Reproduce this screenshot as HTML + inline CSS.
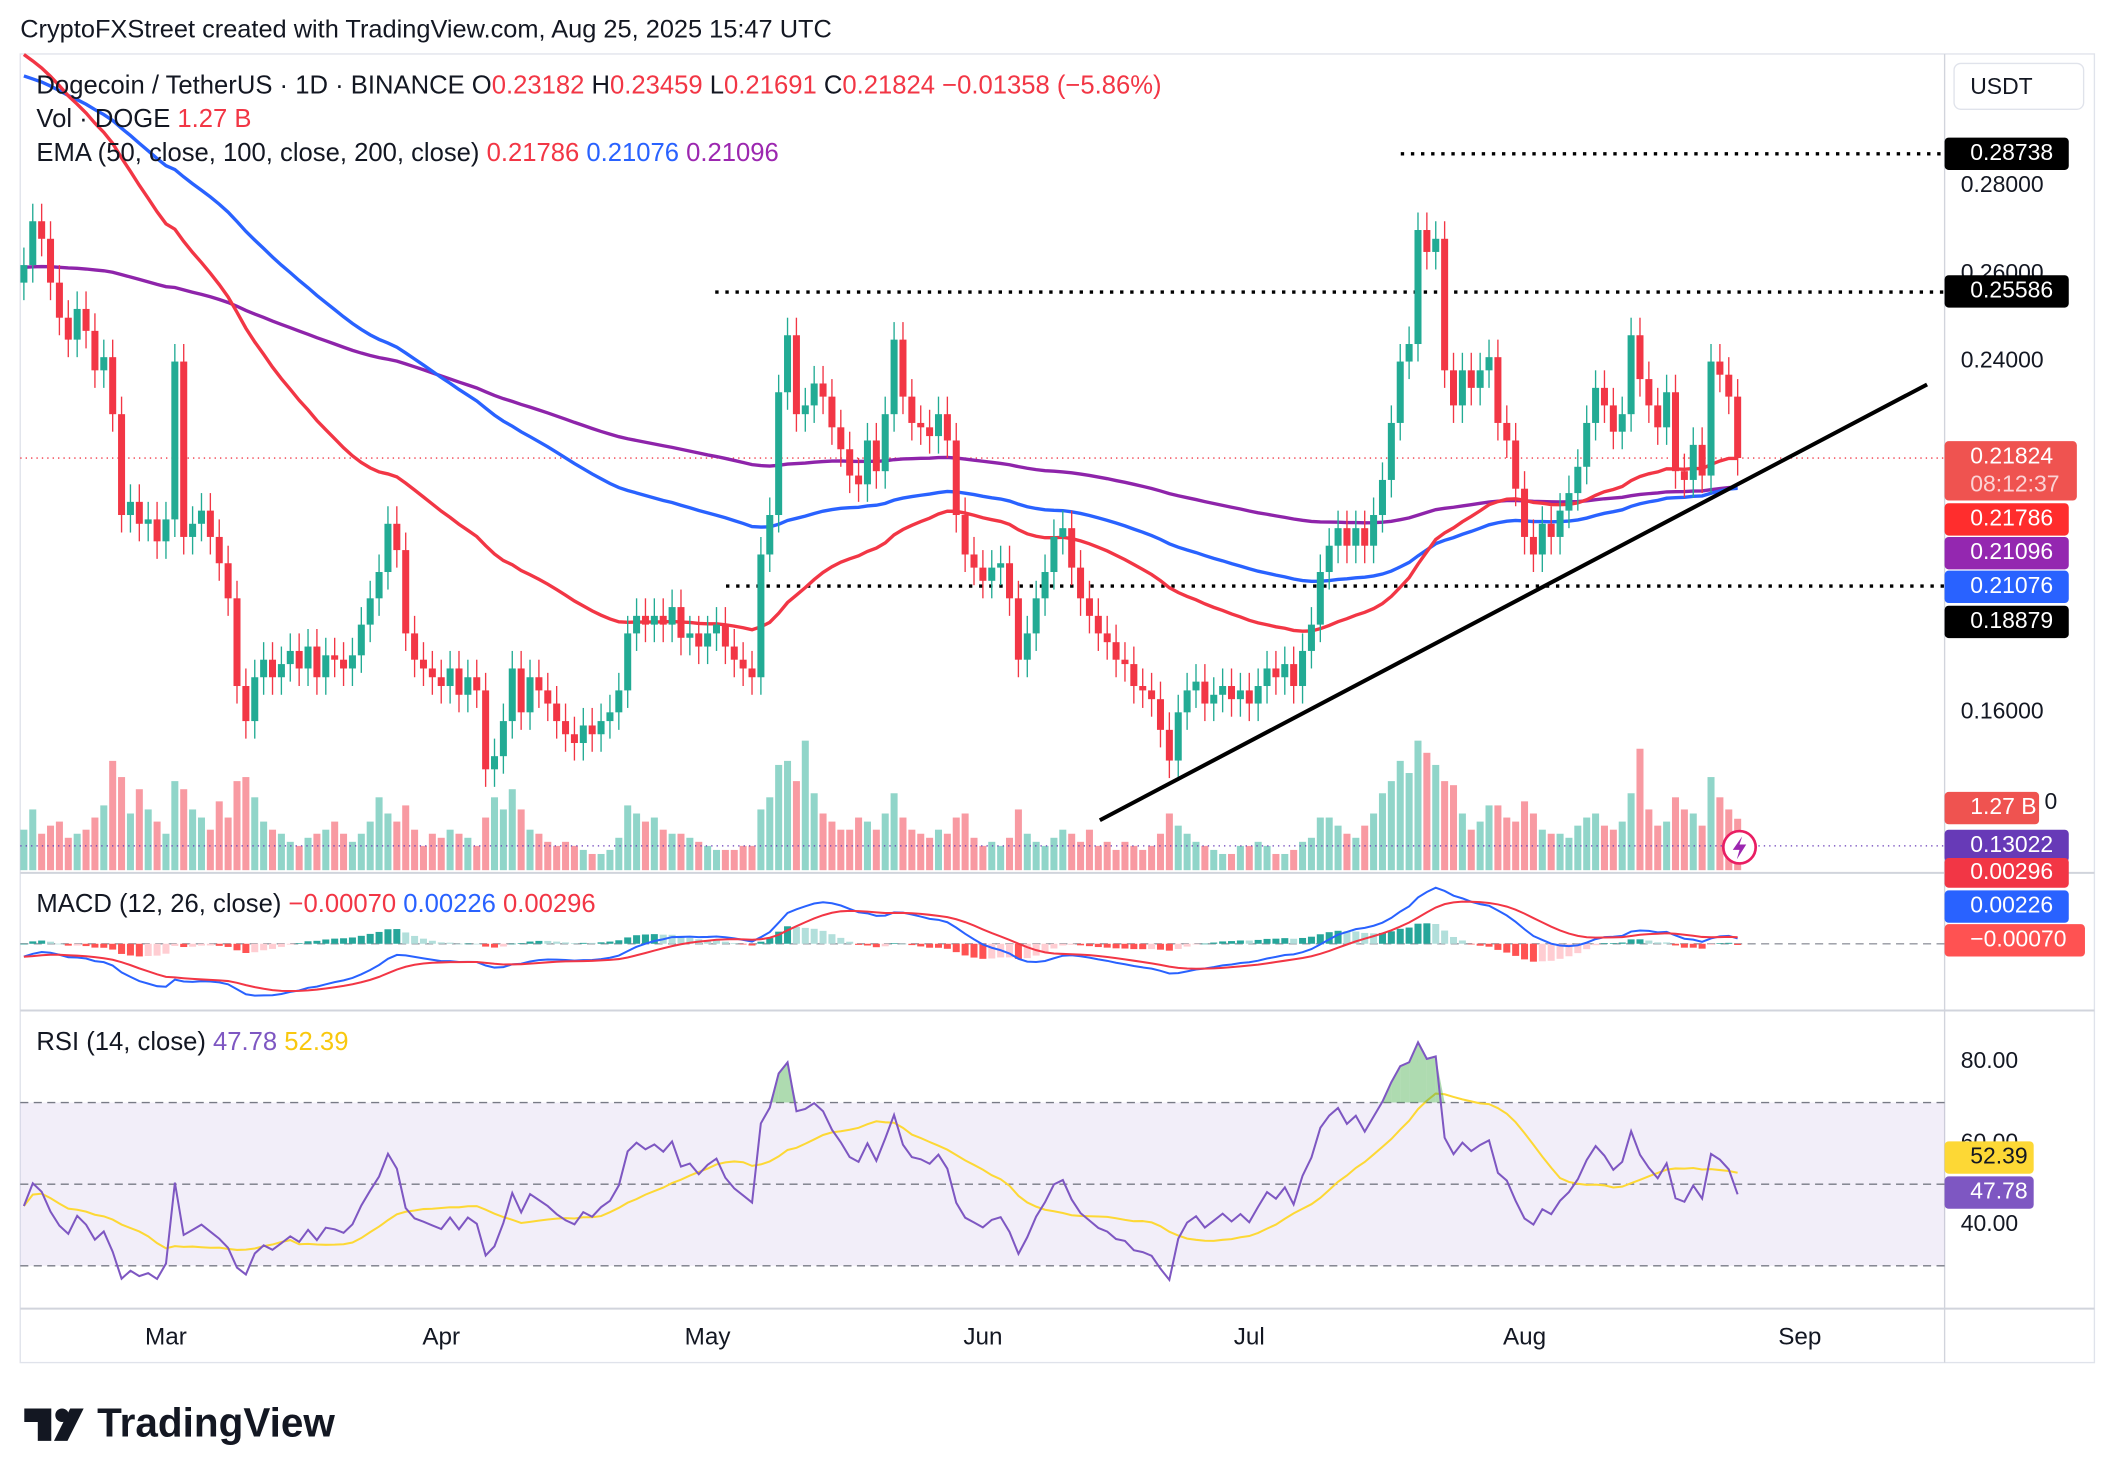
<!DOCTYPE html>
<html><head><meta charset="utf-8"><style>
html,body{margin:0;padding:0;background:#fff;}
svg{display:block;font-family:"Liberation Sans",sans-serif;}
</style></head><body>
<svg id="c" width="2116" height="1484" viewBox="0 0 1568 1100" preserveAspectRatio="none"></svg>
<script>
const closes=[0.262,0.272,0.268,0.258,0.250,0.245,0.252,0.247,0.238,0.241,0.228,0.205,0.208,0.203,0.204,0.199,
0.204,0.240,0.200,0.203,0.206,0.200,0.194,0.186,0.166,0.158,0.168,0.172,0.168,0.171,0.174,0.170,0.175,0.168,0.173,0.172,0.170,0.173,0.180,0.186,0.192,0.203,0.197,0.178,0.172,0.170,0.168,
0.166,0.170,0.164,0.168,0.165,0.147,0.150,0.158,0.170,0.160,0.168,0.165,0.162,0.158,0.155,0.153,0.157,0.155,0.158,0.160,0.165,0.178,0.182,0.180,0.182,0.180,0.184,0.177,0.178,0.175,
0.178,0.180,0.175,0.172,0.170,0.168,0.196,0.205,0.233,0.246,0.228,0.230,0.235,0.232,0.225,0.220,0.214,0.212,0.222,0.215,0.228,0.245,0.232,0.226,0.225,0.223,0.228,0.222,0.205,0.196,0.193,
0.190,0.193,0.194,0.186,0.172,0.178,0.186,0.192,0.200,0.202,0.193,0.186,0.182,0.178,0.176,0.172,0.171,0.166,0.165,0.163,0.156,0.149,0.160,0.165,0.167,0.162,0.164,0.166,0.163,0.165,
0.162,0.166,0.170,0.168,0.171,0.166,0.174,0.180,0.192,0.198,0.202,0.198,0.202,0.198,0.205,0.213,0.226,0.240,0.244,0.270,0.265,0.268,0.238,0.230,0.238,0.234,0.238,0.241,0.226,0.222,0.211,
0.200,0.196,0.203,0.200,0.206,0.210,0.216,0.226,0.234,0.230,0.224,0.228,0.246,0.236,0.230,0.225,0.233,0.215,0.213,0.221,0.214,0.240,0.237,0.232,0.218];
const firstOpen=0.258;
const volumes=[1.0,1.5,0.9,1.1,1.2,0.8,0.9,1.0,1.3,1.6,2.7,2.3,1.4,2.0,1.5,1.2,
0.9,2.2,2.0,1.5,1.3,1.0,1.7,1.3,2.2,2.3,1.8,1.2,1.0,0.9,0.7,0.6,0.8,0.9,1.0,1.2,0.9,0.7,0.9,1.2,1.8,1.4,1.2,1.6,1.0,0.6,0.9,
0.8,1.0,0.9,0.8,0.6,1.3,1.8,1.5,2.0,1.5,1.0,0.9,0.7,0.6,0.7,0.6,0.5,0.4,0.4,0.5,0.8,1.6,1.4,1.2,1.3,1.0,0.9,0.9,0.8,0.7,
0.6,0.5,0.5,0.5,0.6,0.6,1.5,1.8,2.6,2.7,2.2,3.2,1.9,1.4,1.2,1.0,1.0,1.3,1.2,1.0,1.4,1.9,1.3,1.0,0.9,0.8,1.0,0.9,1.3,1.4,0.8,
0.6,0.7,0.6,0.8,1.5,0.9,0.7,0.6,0.8,1.0,0.9,0.7,1.0,0.6,0.7,0.5,0.7,0.6,0.5,0.6,0.9,1.4,1.1,0.9,0.7,0.6,0.5,0.4,0.4,0.6,
0.6,0.7,0.6,0.4,0.4,0.5,0.7,0.8,1.3,1.3,1.1,0.9,0.8,1.1,1.4,1.9,2.2,2.7,2.4,3.2,2.9,2.6,2.2,2.1,1.4,1.0,1.2,1.6,1.6,1.3,1.2,
1.7,1.4,1.0,0.9,0.9,0.8,1.1,1.3,1.4,1.1,1.0,1.2,1.9,3.0,1.5,1.1,1.2,1.8,1.5,1.4,1.1,2.3,1.8,1.5,1.27];
const emaSeeds=[0.312,0.306,0.2615];
const macdSeeds=[0.262,0.2676,-0.0052];
const rsiSeeds=[0.003,0.0041];
const priceTicks=[0.28,0.26,0.24,0.16];
const rsiTicks=[80,60,40];
const monthLabels=["Mar","Apr","May","Jun","Jul","Aug","Sep"];
const monthDays=[16,47,77,108,138,169,200];

const S=document.getElementById('c');const NS='http://www.w3.org/2000/svg';
function el(t,a,p){const e=document.createElementNS(NS,t);for(const k in a)e.setAttribute(k,a[k]);(p||S).appendChild(e);return e;}
const X=i=>17.7+i*6.58;
const Y=p=>268-(p-0.24)*3250;
const VY=v=>645-v*30;
const RY=v=>787+(80-v)*3.025;
const G='#22ab94',R='#f23645';

// frames
let e;
e=el('rect',{x:15,y:40,width:1537,height:970,fill:'none',stroke:'#e0e3eb'});

[647,749,970].forEach(y=>el('line',{x1:15,x2:1552,y1:y,y2:y,stroke:'#d1d4dc','stroke-width':1.5}));
el('line',{x1:1441,x2:1441,y1:40,y2:1010,stroke:'#d1d4dc'});
const defs=el('defs',{});const cp=el('clipPath',{id:'mclip'},defs);el('rect',{x:15,y:648,width:1426,height:100},cp);
// rsi band
e=el('rect',{x:15,y:RY(70),width:1426,height:RY(30)-RY(70),fill:'#7e57c2','fill-opacity':0.1});

[70,50,30].forEach(v=>el('line',{x1:15,x2:1441,y1:RY(v),y2:RY(v),stroke:'#787b86','stroke-dasharray':'6 4','stroke-width':1}));

// volumes
const g=el('g',{});
for(let i=0;i<closes.length;i++){const o=i?closes[i-1]:firstOpen;const up=closes[i]>=o;
 el('rect',{x:X(i)-2.6,y:VY(volumes[i]),width:5.2,height:645-VY(volumes[i]),fill:up?G:R,'fill-opacity':0.5},g);}
// dotted lines
el('line',{x1:15,x2:1441,y1:Y(closes[closes.length-1]),y2:Y(closes[closes.length-1]),stroke:R,'stroke-dasharray':'1 3'});
el('line',{x1:15,x2:1441,y1:627,y2:627,stroke:'#673ab7','stroke-dasharray':'1 3'});
[[0.28738,1038],[0.25586,530],[0.18879,538]].forEach(([p,x0])=>{e=el('line',{x1:x0,x2:1441,y1:Y(p),y2:Y(p),stroke:'#000','stroke-width':2.5,'stroke-dasharray':'2.5 5'});
 });

// EMAs
function emaSeries(per,seed){const a=2/(per+1);let v=seed;return closes.map(c=>v=v+a*(c-v));}
const emas=[emaSeries(50,emaSeeds[0]),emaSeries(100,emaSeeds[1]),emaSeries(200,emaSeeds[2])];
const pts=(arr,f)=>arr.map((v,i)=>X(i).toFixed(1)+','+f(v).toFixed(1)).join(' ');
e=el('polyline',{points:pts(emas[2],Y),fill:'none',stroke:'#8e24aa','stroke-width':2.5});
e=el('polyline',{points:pts(emas[1],Y),fill:'none',stroke:'#2962ff','stroke-width':2.5});
e=el('polyline',{points:pts(emas[0],Y),fill:'none',stroke:'#f23645','stroke-width':2.5});

// candles
const cg=el('g',{});
for(let i=0;i<closes.length;i++){const o=i?closes[i-1]:firstOpen,c=closes[i];const up=c>=o;const col=up?G:R;
 const hi=Math.max(o,c)+0.004,lo=Math.min(o,c)-0.004;
 el('line',{x1:X(i),x2:X(i),y1:Y(hi),y2:Y(lo),stroke:col,'stroke-width':1},cg);
 el('rect',{x:X(i)-2.6,y:Y(Math.max(o,c)),width:5.2,height:Math.max(1,Math.abs(Y(o)-Y(c))),fill:col},cg);}
// trendline
e=el('line',{x1:815,y1:608,x2:1428,y2:285,stroke:'#000','stroke-width':3});

// MACD (auto-scaled to pane)
const m12=emaSeries(12,macdSeeds[0]),m26=emaSeries(26,macdSeeds[1]);
const macd=m12.map((v,i)=>v-m26[i]);let sv=macdSeeds[2];const sig=macd.map(v=>sv=sv+0.2*(v-sv));
const allM=macd.concat(sig,[0]);const mMax=Math.max(...allM),mMin=Math.min(...allM);
const MY=v=>658+(mMax-v)/(mMax-mMin)*80;
el('line',{x1:15,x2:1441,y1:MY(0),y2:MY(0),stroke:'#9598a1','stroke-dasharray':'6 4','stroke-width':1});
const mw=el('g',{'clip-path':'url(#mclip)'});
const mg=el('g',{},mw);
for(let i=0;i<macd.length;i++){const h=macd[i]-sig[i];const ph=i?macd[i-1]-sig[i-1]:h;
 const col=h>=0?(h>=ph?'#26a69a':'#b2dfdb'):(h<=ph?'#ff5252':'#ffcdd2');
 el('rect',{x:X(i)-2.6,y:Math.min(MY(0),MY(h)),width:5.2,height:Math.max(0.5,Math.abs(MY(h)-MY(0))),fill:col},mg);}
e=el('polyline',{points:pts(macd,MY),fill:'none',stroke:'#2962ff','stroke-width':1.5},mw);
e=el('polyline',{points:pts(sig,MY),fill:'none',stroke:'#f23645','stroke-width':1.5},mw);

// RSI
let ag=rsiSeeds[0],al=rsiSeeds[1];
const rsi=closes.map((c,i)=>{const d=c-(i?closes[i-1]:firstOpen);ag=(ag*13+Math.max(d,0))/14;al=(al*13+Math.max(-d,0))/14;return 100-100/(1+ag/al);});
const rsiMa=rsi.map((v,i)=>{const s=rsi.slice(Math.max(0,i-13),i+1);return s.reduce((a,b)=>a+b,0)/s.length;});
e=el('polyline',{points:pts(rsiMa,RY),fill:'none',stroke:'#fdd835','stroke-width':1.5});
for(let i=1;i<rsi.length;i++){if(rsi[i]>70||rsi[i-1]>70){const a=Math.max(rsi[i-1],70),b=Math.max(rsi[i],70);
 el('polygon',{points:`${X(i-1)},${RY(70)} ${X(i-1)},${RY(a)} ${X(i)},${RY(b)} ${X(i)},${RY(70)}`,fill:'#4caf50','fill-opacity':0.45});}}
e=el('polyline',{points:pts(rsi,RY),fill:'none',stroke:'#7e57c2','stroke-width':1.5});

// text helper
function tx(x,y,s,a){const t=el('text',Object.assign({x:x,y:y,'font-size':17,fill:'#131722','dominant-baseline':'middle'},a||{}));t.textContent=s;return t;}
priceTicks.forEach(p=>{e=tx(1453,Y(p),p.toFixed(5));});
rsiTicks.forEach(v=>{e=tx(1453,RY(v),v.toFixed(2));});
monthLabels.forEach((m,k)=>{e=tx(X(monthDays[k]),992,m,{'text-anchor':'middle','font-size':18});});
function lab(y,h,col,s,w,name,sub,tc){const r=el('rect',{x:1441,y:y-h/2,width:w||92,height:h,rx:3,fill:col});
 
 tx(1460,sub?y-10:y,s,{fill:tc||'#fff'});if(sub)tx(1460,y+11,sub,{fill:'#fbd3d5'});}
lab(114,24,'#000','0.28738',92,'label-0-28738');lab(216,24,'#000','0.25586',92,'label-0-25586');
lab(349,44,'#ef5350','0.21824',98,'label-last-price','08:12:37');
lab(385,24,'#ff2d2d','0.21786',92,'label-ema50');lab(410,24,'#9427b0','0.21096',92,'label-ema200');
lab(435,24,'#2962ff','0.21076',92,'label-ema100');lab(461,24,'#000','0.18879',92,'label-0-18879');
tx(1515,595,'0');
lab(599,24,'#ef5350','1.27 B',70,'label-volume');lab(627,24,'#673ab7','0.13022',92,'label-0-13022');
lab(647,22,'#f23645','0.00296',92,'label-signal');lab(672,24,'#2962ff','0.00226',92,'label-macd');
lab(697,24,'#ff5252','−0.00070',104,'label-hist');
lab(858,24,'#fdd835','52.39',66,'label-rsi-ma',null,'#131722');lab(884,24,'#7e57c2','47.78',66,'label-rsi');
e=el('rect',{x:1448,y:47,width:96,height:34,rx:5,fill:'#fff',stroke:'#e0e3eb'});
tx(1460,65,'USDT');
e=tx(15,23,'CryptoFXStreet created with TradingView.com, Aug 25, 2025 15:47 UTC',{'font-size':18.8});
function multi(x,y,parts,name){const t=el('text',{x:x,y:y,'font-size':19,'dominant-baseline':'middle'});
 parts.forEach(([s,c])=>{const sp=el('tspan',{fill:c},t);sp.textContent=s;});}
multi(27,64,[['Dogecoin / TetherUS · 1D · BINANCE  ','#131722'],['O','#131722'],['0.23182  ',R],['H','#131722'],['0.23459  ',R],['L','#131722'],['0.21691  ',R],['C','#131722'],['0.21824  −0.01358 (−5.86%)',R]],'symbol-legend');
multi(27,89,[['Vol · DOGE  ','#131722'],['1.27 B',R]],'volume-legend');
multi(27,114,[['EMA (50, close, 100, close, 200, close)  ','#131722'],['0.21786  ',R],['0.21076  ','#2962ff'],['0.21096','#9c27b0']],'ema-legend');
multi(27,671,[['MACD (12, 26, close)  ','#131722'],['−0.00070  ',R],['0.00226  ','#2962ff'],['0.00296',R]],'macd-legend');
multi(27,773,[['RSI (14, close)  ','#131722'],['47.78  ','#7e57c2'],['52.39','#f9c80e']],'rsi-legend');
e=el('circle',{cx:1289,cy:628,r:12,fill:'#fff',stroke:'#e91e63','stroke-width':2});
el('path',{d:'M1291,620 L1284,630 L1289,630 L1287,637 L1294,626 L1289,626 Z',fill:'#9c27b0'});
const lg=el('g',{});
el('path',{d:'M18,1044 h20 v24 h-10 v-14 h-10 z M52,1044 h10 l-12,24 h-10 z',fill:'#131722'},lg);
el('circle',{cx:46,cy:1049,r:5,fill:'#131722'},lg);
const lt=el('text',{x:72,y:1057,'font-size':30,'font-weight':'bold',fill:'#131722','dominant-baseline':'middle'},lg);lt.textContent='TradingView';
</script>
</body></html>
